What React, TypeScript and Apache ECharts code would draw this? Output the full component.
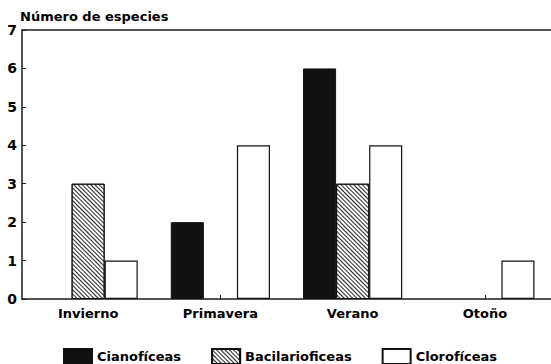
import React, { useEffect, useRef } from "react";
import * as echarts from "echarts";

const categories = ["Invierno", "Primavera", "Verano", "Otoño"];
const seriesNames = ["Cianofíceas", "Bacilarioficeas", "Clorofíceas"];
const cianoficeas = [null, 2, 6, null];
const bacilarioficeas = [3, null, 3, null];
const cloroficeas = [1, 4, 4, 1];
const yTicks = [0, 1, 2, 3, 4, 5, 6, 7];
const yTitle = "Número de especies";

const FONT = "DejaVu Sans";

export default function App() {
  const ref = useRef<HTMLDivElement>(null);
  useEffect(() => {
    if (!ref.current) return;
    const chart = echarts.init(ref.current, null, { renderer: "svg" });
    const axisLine = { show: true, lineStyle: { color: "#1a1a1a", width: 1.5 } };
    chart.setOption({
      animation: false,
      backgroundColor: "#fff",
      title: {
        text: yTitle,
        left: 15,
        top: 5,
        textStyle: { fontFamily: FONT, fontWeight: "bold", fontSize: 13, color: "#000" },
      },
      legend: {
        left: 63,
        top: 348,
        padding: 0,
        itemWidth: 28,
        itemHeight: 15,
        itemGap: 30,
        icon: "rect",
        textStyle: { fontFamily: FONT, fontWeight: "bold", fontSize: 13, color: "#000", lineHeight: 15 },
        data: seriesNames,
      },
      grid: { left: 22, right: -3, top: 30, bottom: 65 },
      xAxis: [
        {
          type: "category",
          data: categories,
          axisLine,
          axisTick: { show: true, inside: true, alignWithLabel: true, length: 4, lineStyle: { color: "#1a1a1a" } },
          axisLabel: { fontFamily: FONT, fontWeight: "bold", fontSize: 13, color: "#000", margin: 8 },
        },
        {
          type: "category",
          data: categories,
          position: "top",
          axisLine,
          axisTick: { show: false },
          axisLabel: { show: false },
        },
      ],
      yAxis: {
        type: "value",
        min: yTicks[0],
        max: yTicks[yTicks.length - 1],
        interval: 1,
        axisLine,
        axisTick: { show: true, inside: true, length: 4, lineStyle: { color: "#1a1a1a" } },
        splitLine: { show: false },
        axisLabel: { fontFamily: FONT, fontWeight: "bold", fontSize: 14, color: "#000", margin: 5 },
      },
      series: [
        {
          name: seriesNames[0],
          type: "bar",
          data: cianoficeas,
          barGap: "0%",
          barCategoryGap: "25%",
          itemStyle: { color: "#111", borderColor: "#111", borderWidth: 1 },
        },
        {
          name: seriesNames[1],
          type: "bar",
          data: bacilarioficeas,
          barGap: "0%",
          barCategoryGap: "25%",
          itemStyle: {
            color: "#fff",
            borderColor: "#111",
            borderWidth: 1,
            decal: {
              symbol: "rect",
              symbolSize: 1,
              color: "#222",
              backgroundColor: "#fff",
              dashArrayX: [1, 0],
              dashArrayY: [1, 2],
              rotation: Math.PI / 4,
            },
          },
        },
        {
          name: seriesNames[2],
          type: "bar",
          data: cloroficeas,
          barGap: "0%",
          barCategoryGap: "25%",
          itemStyle: { color: "#fff", borderColor: "#111", borderWidth: 1.2 },
        },
      ],
    });
    return () => chart.dispose();
  }, []);
  return (
    <div
      ref={ref}
      style={{ position: "fixed", left: 0, top: 0, width: 551, height: 364 }}
    />
  );
}
